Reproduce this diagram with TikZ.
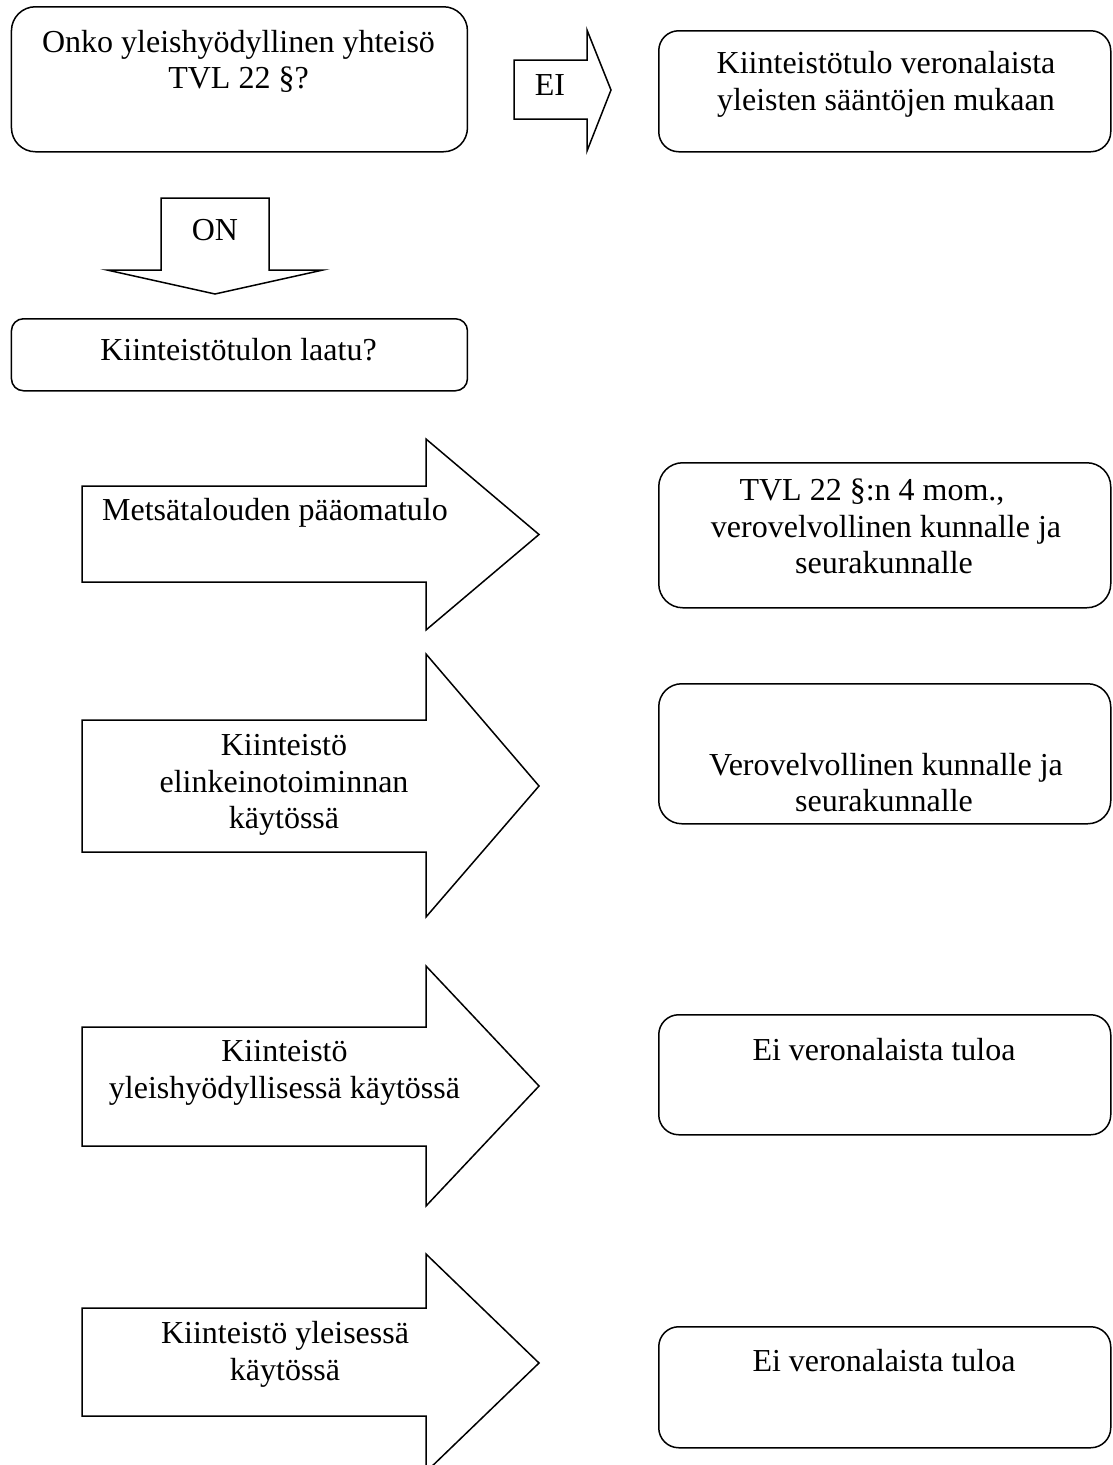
\documentclass[tikz,border=0pt]{standalone}
\usepackage{fontspec}
\setmainfont{Liberation Serif}
\begin{document}
\begin{tikzpicture}[x=1pt,y=-1pt,
  outline/.style={draw=black, line width=1.5pt, fill=white, line join=miter},
  rbox/.style={outline, rounded corners=#1, inner sep=0pt, anchor=north west},
  lbl/.style={anchor=base, inner sep=0pt, font=\fontsize{32}{37}\selectfont}]
\useasboundingbox (0,0) rectangle (1112,1465);
\clip (0,0) rectangle (1112,1465);

% --- question boxes (left column)
\node[rbox=24pt, minimum width=456pt, minimum height=145pt] (q1) at (10.7,6) {};
\node[rbox=12pt, minimum width=456pt, minimum height=72pt] (q2) at (10.7,318) {};

% --- answer boxes (right column)
\node[rbox=20pt, minimum width=452pt, minimum height=121pt] (r1) at (658,30) {};
\node[rbox=24pt, minimum width=452pt, minimum height=145pt] (r2) at (658,462) {};
\node[rbox=23pt, minimum width=452pt, minimum height=140pt] (r3) at (658,683) {};
\node[rbox=20pt, minimum width=452pt, minimum height=120pt] (r4) at (658,1014) {};
\node[rbox=20pt, minimum width=452pt, minimum height=121pt] (r5) at (658,1326) {};

% --- block arrows: EI (right) and ON (down)
\draw[outline] (514,60) -- (587,60) -- (587,30) -- (611,90) -- (587,151)
  -- (587,119) -- (514,119) -- cycle;
\draw[outline] (161,198) -- (269,198) -- (269,270) -- (323,270) -- (215,294)
  -- (107,270) -- (161,270) -- cycle;

% --- block arrows for the kinds of income
\draw[outline] (82,486) -- (426,486) -- (426,439) -- (539,534.5) -- (426,630)
  -- (426,582) -- (82,582) -- cycle;
\draw[outline] (82,720) -- (426,720) -- (426,654) -- (539,786) -- (426,917)
  -- (426,852) -- (82,852) -- cycle;
\draw[outline] (82,1027) -- (426,1027) -- (426,966) -- (539,1086) -- (426,1206)
  -- (426,1146) -- (82,1146) -- cycle;
\draw[outline] (82,1308) -- (426,1308) -- (426,1254) -- (539,1363) -- (426,1472)
  -- (426,1416) -- (82,1416) -- cycle;

% --- texts
\node[lbl] (q1a) at (238.5,52) {Onko yleishyödyllinen yhteisö};
\node[lbl] (q1b) at (238.5,88.5) {TVL 22 §?};
\node[lbl] (ei) at (550,95) {EI};
\node[lbl] (on) at (215,240) {ON};
\node[lbl] (q2a) at (238.5,360) {Kiinteistötulon laatu?};

\node[lbl] (r1a) at (886,73) {Kiinteistötulo veronalaista};
\node[lbl] (r1b) at (886,110) {yleisten sääntöjen mukaan};

\node[lbl] (a1a) at (275,520) {Metsätalouden pääomatulo};
\node[lbl] (r2a) at (872,500) {TVL 22 §:n 4 mom.,};
\node[lbl] (r2b) at (886,537) {verovelvollinen kunnalle ja};
\node[lbl] (r2c) at (884,573.5) {seurakunnalle};

\node[lbl] (a2a) at (284,755) {Kiinteistö};
\node[lbl] (a2b) at (284,792) {elinkeinotoiminnan};
\node[lbl] (a2c) at (284,828) {käytössä};
\node[lbl] (r3a) at (886,775) {Verovelvollinen kunnalle ja};
\node[lbl] (r3b) at (884,811) {seurakunnalle};

\node[lbl] (a3a) at (284.5,1061) {Kiinteistö};
\node[lbl] (a3b) at (284.5,1098) {yleishyödyllisessä käytössä};
\node[lbl] (r4a) at (884,1060) {Ei veronalaista tuloa};

\node[lbl] (a4a) at (285,1343) {Kiinteistö yleisessä};
\node[lbl] (a4b) at (285,1380) {käytössä};
\node[lbl] (r5a) at (884,1371) {Ei veronalaista tuloa};
\end{tikzpicture}
\end{document}
